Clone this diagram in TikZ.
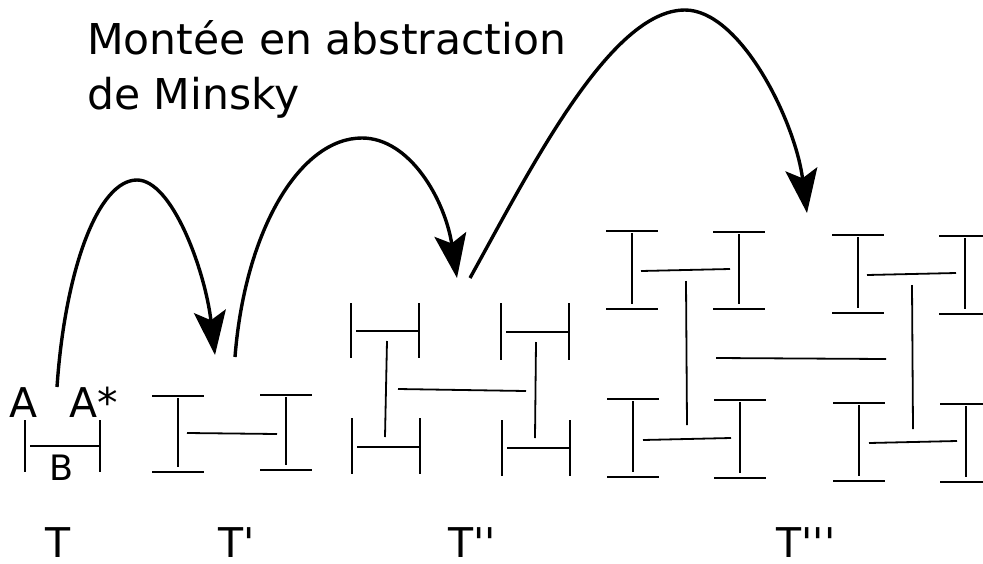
\documentclass[tikz,border=0pt]{standalone}
\usepackage{fontspec}
\setmainfont{DejaVu Sans}
\usetikzlibrary{arrows.meta}

\tikzset{
  trait/.style={line width=1.8pt},
  saut/.style={line width=3.4pt, -{Stealth[length=44pt, width=32pt, inset=9pt]}},
  titre/.style={font=\fontsize{42.5}{55}\selectfont, align=left, inner sep=0pt},
  etiq/.style={font=\fontsize{41}{49}\selectfont, inner sep=0pt, anchor=base}
}

% poutre en I : x, haut, bas
\newcommand{\poutre}[3]{%
  \draw[trait] (#1-26,#2) -- (#1+26,#2);
  \draw[trait] (#1,#2+2) -- (#1,#3-5);
  \draw[trait] (#1-26,#3) -- (#1+26,#3);}
% cadre |-| : x gauche, x droite, haut, bas, ligne
\newcommand{\cadre}[5]{%
  \draw[trait] (#1,#3) -- (#1,#4);
  \draw[trait] (#2,#3) -- (#2,#4);
  \draw[trait] (#1+5,#5) -- (#2-1,#5);}

\begin{document}
\begin{tikzpicture}[x=1pt, y=-1pt]
  \useasboundingbox (0,0) rectangle (983,563);

  % titre
  \node[titre, anchor=north west] (titre) at (87,20)
        {Montée en abstraction\\de Minsky};

  % T
  \cadre{25}{100}{420}{472}{446}
  \node[etiq] (A) at (24,417) {A};
  \node[etiq] (Aet) at (94,417) {A*};
  \node[etiq, font=\fontsize{35}{42}\selectfont] (B) at (62,480) {B};

  % T'
  \poutre{178}{396}{472}
  \poutre{286}{395}{470}
  \draw[trait] (187,433) -- (277,434);

  % T''
  \cadre{351}{419}{303}{358}{331}
  \cadre{501}{569}{303}{360}{332}
  \cadre{352}{420}{418}{474}{447}
  \cadre{502}{570}{420}{476}{448}
  \draw[trait] (387,341) -- (385,437);
  \draw[trait] (536,342) -- (535,438);
  \draw[trait] (398,389) -- (526,391);

  % T'''
  \poutre{632}{231}{309}
  \poutre{739}{232}{309}
  \draw[trait] (641,271) -- (730,269);
  \poutre{858}{235}{313}
  \poutre{965}{236}{314}
  \draw[trait] (867,275) -- (956,273);
  \poutre{633}{399}{477}
  \poutre{740}{400}{478}
  \draw[trait] (643,440) -- (731,438);
  \poutre{859}{403}{481}
  \poutre{966}{404}{482}
  \draw[trait] (869,443) -- (957,441);
  \draw[trait] (686,281) -- (687,425);
  \draw[trait] (912,285) -- (913,429);
  \draw[trait] (716,358) -- (886,359);

  % noms des arbres
  \node[etiq] (T0) at (58,557) {T};
  \node[etiq] (T1) at (237,557) {T\textquotesingle};
  \node[etiq] (T2) at (472,557) {T\textquotesingle\textquotesingle};
  \node[etiq] (T3) at (806,557) {T\textquotesingle\textquotesingle\textquotesingle};

  % sauts
  \coordinate (d1) at (57,387);
  \coordinate (s1) at (137,180);
  \coordinate (a1) at (215,355);
  \coordinate (d2) at (235,357);
  \coordinate (s2) at (362,138);
  \coordinate (a2) at (457,278);
  \coordinate (d3) at (470,278);
  \coordinate (s3) at (685,10);
  \coordinate (a3) at (807,213);
  \draw[saut] (d1) .. controls (65,270) and (98,180) .. (s1)
                   .. controls (172,180) and (205,270) .. (a1);
  \draw[saut] (d2) .. controls (245,230) and (300,138) .. (s2)
                   .. controls (410,138) and (445,200) .. (a2);
  \draw[saut] (d3) .. controls (530,170) and (610,10) .. (s3)
                   .. controls (740,10) and (795,120) .. (a3);
\end{tikzpicture}
\end{document}
